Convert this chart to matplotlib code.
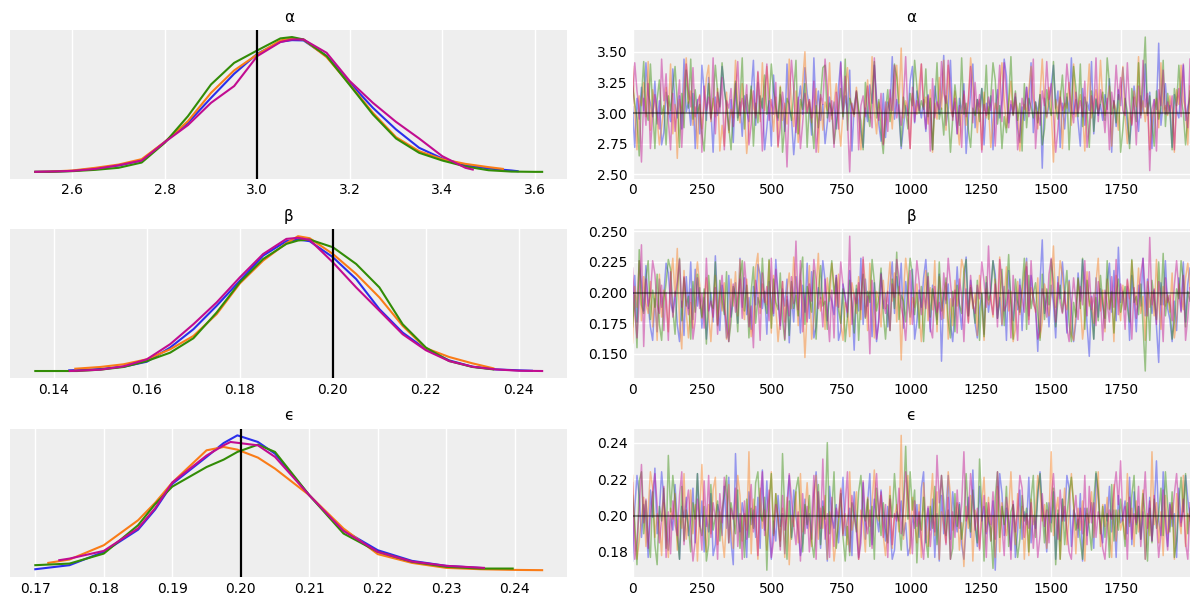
import numpy as np
import matplotlib
matplotlib.use('Agg')
import matplotlib.pyplot as plt

CHAIN_COLORS = ['#2a2eec', '#fa7c17', '#328c06', '#c10c90']
PARAM_NAMES = ['α', 'β', 'ϵ']
REF_VALUES = [3.0, 0.2, 0.2]

# ---- posterior densities (left column), one curve per chain ----
kde_alpha_x = [
    [2.52, 2.55, 2.60, 2.65, 2.70, 2.75, 2.80, 2.85, 2.90, 2.95, 3.00, 3.05, 3.075, 3.10,
     3.15, 3.20, 3.25, 3.30, 3.35, 3.40, 3.45, 3.50, 3.55, 3.563],
    [2.52, 2.55, 2.60, 2.65, 2.70, 2.75, 2.80, 2.85, 2.90, 2.95, 3.00, 3.05, 3.075, 3.10,
     3.15, 3.20, 3.25, 3.30, 3.35, 3.40, 3.45, 3.50, 3.531],
    [2.52, 2.55, 2.60, 2.65, 2.70, 2.75, 2.80, 2.85, 2.90, 2.95, 3.00, 3.05, 3.075, 3.10,
     3.15, 3.20, 3.25, 3.30, 3.35, 3.40, 3.45, 3.50, 3.55, 3.60, 3.616],
    [2.52, 2.55, 2.60, 2.65, 2.70, 2.75, 2.80, 2.85, 2.90, 2.95, 3.00, 3.05, 3.075, 3.10,
     3.15, 3.20, 3.25, 3.30, 3.35, 3.40, 3.45, 3.466],
]
kde_alpha_y = [
    [0, .002, .007, .025, .047, .084, .222, .363, .548, .726, .874, .963, .975, .973,
     .857, .659, .474, .314, .178, .099, .049, .025, .010, .005],
    [0, .002, .010, .030, .054, .094, .222, .375, .585, .751, .869, .973, .988, .980,
     .849, .647, .437, .257, .153, .094, .059, .035, .022],
    [0, 0, .005, .015, .030, .069, .215, .412, .647, .807, .899, .988, .998, .980,
     .857, .642, .425, .247, .141, .084, .040, .012, .002, 0, 0],
    [0, .002, .007, .022, .049, .084, .220, .346, .511, .635, .857, .961, .980, .980,
     .881, .672, .511, .370, .247, .116, .030, .017],
]

kde_beta_x = [
    [0.1433, 0.145, 0.15, 0.155, 0.16, 0.165, 0.17, 0.175, 0.18, 0.185, 0.19, 0.1925,
     0.195, 0.20, 0.205, 0.21, 0.215, 0.22, 0.225, 0.23, 0.235, 0.24, 0.2428],
    [0.1446, 0.15, 0.155, 0.16, 0.165, 0.17, 0.175, 0.18, 0.185, 0.19, 0.1925,
     0.195, 0.20, 0.205, 0.21, 0.215, 0.22, 0.225, 0.23, 0.2345],
    [0.136, 0.14, 0.145, 0.15, 0.155, 0.16, 0.165, 0.17, 0.175, 0.18, 0.185, 0.19, 0.1925,
     0.195, 0.20, 0.205, 0.21, 0.215, 0.22, 0.225, 0.23, 0.2345],
    [0.1434, 0.145, 0.15, 0.155, 0.16, 0.165, 0.17, 0.175, 0.18, 0.185, 0.19, 0.1925,
     0.195, 0.20, 0.205, 0.21, 0.215, 0.22, 0.225, 0.23, 0.235, 0.24, 0.245],
]
kde_beta_y = [
    [.005, .007, .015, .032, .069, .174, .310, .484, .670, .856, .963, .975,
     .963, .844, .682, .459, .285, .161, .079, .032, .012, .005, .002],
    [.017, .030, .050, .087, .161, .260, .422, .650, .819, .948, 1.0,
     .985, .868, .720, .546, .335, .169, .104, .057, .020],
    [0, 0, 0, .010, .030, .074, .136, .243, .434, .658, .831, .943, .968,
     .975, .918, .794, .620, .347, .174, .074, .030, .012],
    [0, .002, .010, .035, .087, .199, .347, .509, .695, .868, .980, .988,
     .973, .806, .620, .447, .273, .154, .074, .032, .012, .002, 0],
]

kde_eps_x = [
    [0.17, 0.175, 0.18, 0.185, 0.1875, 0.19, 0.195, 0.1975, 0.1995, 0.2025, 0.205,
     0.21, 0.215, 0.22, 0.225, 0.23, 0.2355],
    [0.1719, 0.175, 0.18, 0.185, 0.1875, 0.19, 0.195, 0.1975, 0.1995, 0.2025, 0.205,
     0.21, 0.215, 0.22, 0.225, 0.23, 0.235, 0.24, 0.244],
    [0.17, 0.175, 0.18, 0.185, 0.1875, 0.19, 0.195, 0.1975, 0.1995, 0.2025, 0.205,
     0.21, 0.215, 0.22, 0.225, 0.23, 0.235, 0.2397],
    [0.1735, 0.175, 0.18, 0.185, 0.1875, 0.19, 0.195, 0.1975, 0.1985, 0.2025, 0.205,
     0.21, 0.215, 0.22, 0.225, 0.23, 0.2355],
]
kde_eps_y = [
    [.007, .037, .136, .300, .450, .640, .840, .943, 1.0, .951, .864,
     .556, .296, .148, .069, .032, .015],
    [.054, .079, .185, .370, .500, .650, .889, .914, .894, .835, .753,
     .556, .309, .119, .054, .017, .007, .002, 0],
    [.037, .049, .123, .333, .490, .620, .765, .820, .877, .931, .877,
     .556, .272, .136, .062, .025, .012, .012],
    [.074, .086, .143, .310, .460, .650, .850, .926, .951, .926, .840,
     .556, .291, .136, .064, .032, .017],
]

# ---- sampled values (right column), every 8th draw, one list per chain ----
# alpha in hundredths
trace_alpha_x100 = [
    [305, 272, 312, 295, 321, 302, 341, 315, 308, 297, 326, 291, 310, 274, 284, 317, 304, 293, 336, 307,
     296, 314, 287, 344, 301, 309, 290, 316, 271, 311, 283, 339, 318, 294, 329, 303, 268, 313, 298, 308,
     338, 320, 305, 286, 311, 276, 324, 296, 309, 281, 314, 302, 293, 317, 343, 290, 325, 299, 312, 270,
     288, 310, 273, 331, 301, 294, 315, 306, 285, 340, 303, 296, 266, 289, 308, 322, 299, 337, 316, 305,
     282, 345, 300, 318, 294, 307, 275, 292, 313, 298, 309, 287, 321, 342, 295, 314, 301, 335, 269, 306,
     317, 299, 284, 272, 304, 293, 323, 308, 339, 312, 291, 277, 316, 280, 309, 302, 346, 295, 311, 300,
     271, 289, 306, 298, 326, 338, 292, 318, 307, 296, 311, 285, 315, 301, 270, 322, 308, 299, 313, 347,
     290, 304, 343, 297, 309, 283, 312, 300, 324, 267, 295, 316, 340, 288, 311, 305, 320, 274, 308, 299,
     314, 270, 303, 319, 296, 310, 344, 330, 292, 307, 298, 313, 288, 276, 305, 294, 321, 302, 341, 284,
     309, 300, 315, 255, 312, 297, 306, 323, 339, 304, 318, 272, 308, 287, 313, 301, 345, 299, 311, 293,
     273, 320, 290, 309, 302, 342, 283, 312, 298, 307, 294, 315, 303, 328, 268, 310, 289, 319, 306, 337,
     312, 291, 275, 296, 322, 304, 285, 314, 301, 340, 298, 317, 271, 311, 303, 357, 290, 308, 324, 299,
     306, 272, 315, 302, 296, 319, 339, 294, 305, 312],
    [338, 302, 270, 314, 306, 325, 297, 342, 286, 319, 308, 295, 274, 289, 304, 321, 299, 340, 283, 307,
     263, 311, 300, 323, 345, 308, 318, 290, 305, 271, 315, 287, 306, 328, 339, 293, 312, 297, 320, 269,
     290, 273, 317, 284, 303, 296, 343, 307, 292, 324, 301, 267, 288, 319, 305, 298, 333, 293, 341, 302,
     338, 317, 306, 285, 313, 272, 322, 294, 308, 291, 344, 303, 289, 318, 276, 297, 326, 350, 301, 311,
     292, 305, 320, 268, 312, 286, 309, 302, 341, 295, 307, 324, 293, 273, 300, 318, 337, 313, 304, 297,
     321, 299, 270, 290, 306, 327, 296, 346, 302, 283, 309, 301, 275, 294, 305, 312, 287, 320, 339, 308,
     353, 296, 310, 303, 271, 316, 307, 299, 322, 340, 305, 313, 291, 319, 268, 308, 295, 329, 303, 343,
     286, 339, 304, 297, 318, 293, 274, 301, 315, 290, 309, 345, 323, 306, 284, 311, 270, 317, 296, 305,
     272, 292, 308, 300, 320, 341, 311, 288, 306, 326, 298, 310, 303, 269, 291, 307, 301, 319, 338, 312,
     305, 287, 314, 344, 309, 296, 321, 302, 260, 311, 300, 318, 271, 308, 304, 325, 290, 340, 297, 306,
     315, 301, 269, 310, 340, 296, 307, 319, 303, 343, 311, 298, 306, 322, 273, 309, 302, 286, 316, 338,
     297, 275, 300, 291, 318, 305, 346, 299, 310, 293, 308, 270, 295, 304, 312, 288, 341, 301, 306, 298,
     314, 302, 268, 319, 307, 339, 311, 303, 274, 322],
    [322, 308, 296, 265, 313, 342, 301, 294, 340, 305, 271, 311, 327, 299, 306, 274, 314, 302, 320, 338,
     309, 272, 316, 288, 335, 304, 344, 295, 319, 300, 307, 283, 269, 302, 324, 296, 310, 339, 317, 305,
     341, 319, 306, 289, 270, 301, 326, 294, 309, 345, 287, 315, 300, 322, 273, 308, 292, 314, 304, 331,
     299, 310, 340, 318, 305, 296, 321, 268, 290, 312, 307, 294, 316, 343, 283, 311, 303, 324, 272, 309,
     293, 271, 306, 288, 313, 337, 339, 296, 308, 302, 275, 291, 304, 320, 297, 344, 286, 312, 305, 299,
     318, 303, 294, 270, 325, 300, 289, 314, 342, 296, 311, 284, 267, 301, 319, 293, 308, 340, 329, 304,
     273, 313, 302, 287, 316, 306, 343, 321, 300, 310, 303, 336, 297, 312, 270, 307, 341, 295, 304, 282,
     314, 301, 268, 296, 323, 305, 290, 345, 299, 308, 286, 272, 304, 298, 311, 293, 320, 302, 339, 295,
     312, 341, 327, 291, 306, 271, 297, 284, 310, 346, 299, 318, 294, 308, 269, 324, 288, 312, 305, 296,
     309, 292, 315, 274, 287, 319, 306, 298, 342, 304, 295, 310, 331, 300, 316, 270, 307, 338, 321, 297,
     340, 289, 313, 303, 272, 318, 285, 311, 300, 308, 317, 294, 345, 324, 299, 310, 292, 315, 268, 287,
     312, 301, 271, 320, 306, 293, 341, 298, 326, 362, 300, 314, 291, 273, 318, 295, 304, 343, 289, 316,
     302, 270, 320, 306, 339, 313, 300, 274, 296, 318],
    [308, 341, 318, 303, 260, 312, 290, 324, 271, 298, 315, 301, 287, 344, 310, 332, 294, 270, 316, 285,
     304, 327, 272, 311, 340, 319, 305, 337, 297, 309, 314, 268, 322, 302, 313, 295, 345, 283, 317, 300,
     329, 270, 310, 304, 320, 289, 315, 342, 298, 312, 301, 323, 274, 291, 318, 296, 334, 308, 269, 314,
     340, 294, 311, 299, 325, 273, 288, 317, 302, 256, 309, 343, 320, 284, 313, 271, 292, 316, 300, 311,
     296, 326, 268, 289, 315, 307, 344, 321, 293, 310, 272, 317, 287, 341, 301, 330, 295, 252, 308, 299,
     318, 270, 306, 314, 297, 322, 303, 288, 345, 305, 294, 316, 274, 309, 285, 319, 302, 339, 296, 307,
     290, 311, 346, 298, 271, 321, 293, 310, 302, 340, 305, 287, 314, 269, 328, 296, 309, 303, 342, 316,
     308, 343, 320, 294, 312, 283, 306, 272, 318, 297, 311, 338, 292, 325, 300, 315, 268, 307, 298, 313,
     302, 319, 273, 309, 339, 293, 341, 314, 288, 310, 300, 316, 270, 286, 312, 303, 321, 297, 309, 344,
     271, 301, 290, 318, 306, 342, 311, 324, 299, 268, 287, 313, 302, 308, 340, 320, 305, 292, 317, 300,
     310, 297, 326, 272, 289, 314, 301, 345, 293, 319, 306, 284, 312, 270, 317, 304, 339, 311, 329, 302,
     298, 341, 307, 290, 313, 274, 322, 296, 343, 305, 316, 253, 303, 311, 269, 319, 306, 335, 299, 309,
     301, 314, 270, 306, 320, 297, 340, 303, 288, 344],
]

# beta in thousandths
trace_beta_x1000 = [
    [181, 214, 176, 226, 207, 185, 222, 190, 172, 161, 195, 168, 211, 188, 199, 224, 216, 192, 184, 201,
     174, 160, 193, 165, 213, 187, 225, 178, 219, 189, 204, 171, 196, 162, 183, 200, 176, 230, 191, 169,
     206, 186, 163, 214, 180, 194, 208, 175, 228, 188, 212, 182, 196, 170, 205, 190, 223, 215, 187, 201,
     166, 209, 193, 181, 227, 197, 173, 203, 189, 211, 159, 198, 176, 213, 192, 167, 206, 184, 224, 179,
     217, 163, 172, 204, 195, 226, 210, 177, 199, 193, 182, 214, 161, 169, 207, 196, 180, 218, 191, 153,
     203, 185, 228, 174, 211, 189, 201, 164, 208, 160, 179, 216, 187, 199, 172, 205, 225, 183, 213, 198,
     224, 171, 209, 195, 180, 219, 162, 176, 202, 188, 212, 227, 197, 168, 206, 193, 178, 215, 144, 200,
     191, 207, 174, 160, 185, 221, 189, 170, 204, 229, 181, 210, 193, 175, 163, 187, 199, 166, 208, 184,
     202, 226, 215, 179, 196, 173, 205, 161, 218, 194, 177, 200, 186, 211, 169, 203, 228, 181, 214, 197,
     189, 152, 208, 243, 183, 199, 172, 206, 191, 163, 213, 195, 225, 201, 167, 210, 188, 160, 176, 216,
     193, 227, 207, 174, 148, 197, 162, 212, 180, 203, 190, 171, 209, 224, 184, 218, 177, 237, 192, 201,
     186, 205, 161, 214, 194, 168, 206, 189, 228, 181, 211, 196, 183, 202, 173, 143, 208, 190, 226, 187,
     178, 160, 193, 169, 212, 185, 225, 176, 207, 220],
    [159, 205, 188, 226, 177, 213, 191, 183, 209, 172, 199, 161, 215, 180, 202, 193, 168, 210, 228, 197,
     236, 176, 154, 218, 184, 163, 192, 171, 207, 225, 206, 179, 195, 212, 182, 160, 190, 214, 174, 201,
     185, 208, 162, 170, 211, 189, 217, 181, 227, 193, 178, 211, 186, 164, 175, 220, 232, 183, 207, 195,
     190, 226, 167, 214, 188, 160, 180, 209, 176, 201, 216, 187, 229, 205, 173, 210, 191, 147, 184, 222,
     162, 179, 203, 232, 185, 199, 170, 212, 193, 224, 206, 189, 215, 175, 161, 192, 186, 164, 208, 197,
     183, 213, 178, 227, 207, 169, 224, 190, 163, 201, 194, 172, 210, 187, 203, 225, 193, 216, 176, 205,
     145, 199, 228, 211, 174, 196, 188, 207, 182, 160, 191, 218, 177, 204, 186, 226, 168, 213, 193, 179,
     208, 162, 195, 173, 210, 189, 202, 227, 219, 192, 176, 206, 187, 199, 165, 214, 194, 161, 203, 190,
     198, 180, 211, 188, 229, 174, 196, 221, 185, 201, 160, 170, 209, 182, 199, 215, 225, 178, 204, 195,
     184, 212, 163, 176, 207, 197, 181, 202, 238, 188, 200, 226, 214, 192, 186, 209, 166, 161, 183, 211,
     191, 162, 179, 217, 189, 196, 175, 208, 228, 185, 202, 168, 211, 187, 199, 160, 214, 192, 177, 206,
     186, 210, 195, 226, 203, 190, 220, 183, 197, 161, 209, 188, 201, 181, 227, 194, 170, 205, 189, 198,
     184, 216, 163, 178, 207, 196, 186, 212, 224, 203],
    [172, 198, 155, 235, 190, 183, 211, 226, 178, 202, 188, 215, 174, 161, 192, 208, 227, 219, 186, 166,
     204, 228, 177, 212, 189, 197, 162, 209, 184, 215, 195, 180, 203, 158, 214, 191, 187, 225, 173, 210,
     194, 182, 217, 160, 176, 205, 198, 168, 213, 226, 185, 206, 163, 201, 221, 175, 196, 188, 228, 193,
     183, 227, 171, 211, 192, 186, 216, 178, 161, 194, 165, 209, 187, 198, 181, 214, 229, 174, 205, 196,
     184, 218, 162, 200, 222, 189, 193, 170, 207, 226, 199, 212, 186, 175, 203, 160, 180, 210, 191, 167,
     206, 161, 197, 215, 179, 201, 192, 227, 209, 185, 196, 220, 183, 162, 190, 169, 211, 187, 233, 178,
     198, 193, 176, 207, 228, 214, 182, 200, 171, 205, 160, 195, 216, 180, 203, 191, 174, 225, 185, 198,
     212, 177, 163, 201, 168, 206, 190, 183, 217, 227, 181, 204, 192, 175, 210, 161, 199, 164, 213, 194,
     200, 226, 208, 179, 195, 219, 173, 202, 231, 189, 162, 211, 193, 184, 205, 228, 170, 214, 187, 199,
     208, 182, 161, 215, 178, 203, 190, 227, 209, 172, 194, 206, 184, 199, 218, 175, 160, 192, 180, 212,
     187, 228, 170, 210, 193, 183, 162, 196, 177, 214, 191, 179, 226, 186, 201, 167, 199, 211, 184, 195,
     205, 188, 176, 227, 192, 197, 182, 207, 173, 136, 200, 161, 210, 194, 178, 225, 190, 232, 181, 198,
     189, 162, 176, 203, 195, 226, 209, 172, 201, 193],
    [220, 186, 163, 193, 239, 156, 211, 189, 198, 226, 215, 190, 183, 206, 169, 200, 161, 217, 180, 196,
     209, 227, 188, 213, 194, 182, 203, 162, 177, 212, 187, 199, 171, 228, 185, 193, 180, 204, 166, 197,
     214, 188, 175, 160, 190, 207, 184, 196, 211, 179, 225, 203, 172, 189, 155, 210, 198, 161, 216, 192,
     205, 177, 228, 183, 219, 194, 170, 209, 162, 197, 181, 213, 191, 242, 186, 226, 168, 199, 176, 207,
     193, 227, 210, 187, 196, 172, 211, 185, 160, 202, 163, 214, 188, 225, 206, 195, 184, 246, 174, 199,
     191, 208, 186, 229, 180, 197, 150, 210, 189, 162, 176, 215, 192, 183, 201, 169, 207, 196, 227, 212,
     188, 179, 161, 193, 218, 174, 198, 226, 209, 182, 200, 187, 213, 171, 163, 205, 184, 192, 178, 216,
     194, 228, 208, 189, 202, 167, 211, 197, 160, 203, 175, 214, 191, 183, 206, 195, 225, 209, 188, 238,
     193, 182, 207, 172, 227, 211, 185, 190, 202, 163, 214, 188, 161, 206, 195, 184, 221, 174, 226, 191,
     186, 162, 169, 203, 194, 180, 215, 228, 197, 176, 208, 192, 183, 201, 171, 160, 187, 212, 193, 178,
     205, 190, 226, 181, 217, 186, 199, 173, 209, 194, 161, 202, 191, 176, 213, 188, 227, 182, 207, 197,
     170, 211, 193, 162, 204, 179, 196, 215, 228, 199, 181, 245, 190, 203, 174, 209, 195, 160, 212, 192,
     198, 177, 206, 226, 201, 184, 214, 161, 180, 204],
]

# epsilon in thousandths
trace_eps_x1000 = [
    [175, 204, 222, 211, 188, 206, 197, 177, 214, 199, 226, 190, 202, 224, 209, 195, 181, 200, 192, 217,
     196, 176, 205, 199, 210, 189, 198, 215, 185, 223, 194, 208, 180, 199, 191, 212, 178, 184, 206, 201,
     189, 216, 193, 221, 186, 173, 234, 200, 191, 207, 198, 177, 213, 195, 203, 188, 210, 182, 225, 192,
     219, 190, 176, 197, 186, 211, 194, 201, 179, 207, 222, 188, 214, 199, 192, 178, 185, 209, 193, 201,
     187, 212, 224, 203, 182, 208, 195, 175, 216, 199, 193, 206, 185, 200, 221, 189, 198, 204, 178, 213,
     195, 177, 190, 218, 187, 207, 223, 184, 209, 200, 191, 214, 199, 186, 205, 194, 176, 181, 202, 197,
     208, 189, 196, 178, 183, 200, 193, 206, 188, 215, 224, 185, 204, 192, 209, 177, 201, 175, 211, 190,
     203, 222, 187, 213, 199, 191, 207, 184, 176, 194, 210, 188, 225, 195, 183, 216, 197, 205, 190, 199,
     186, 208, 170, 201, 223, 212, 189, 204, 196, 181, 206, 177, 192, 214, 187, 202, 195, 221, 185, 200,
     193, 211, 224, 204, 198, 180, 207, 196, 213, 176, 201, 186, 209, 197, 222, 215, 183, 203, 199, 188,
     212, 175, 204, 189, 200, 207, 182, 223, 210, 193, 185, 206, 197, 216, 191, 203, 177, 211, 196, 200,
     208, 190, 221, 184, 213, 195, 205, 187, 202, 176, 192, 210, 186, 204, 230, 197, 189, 224, 200, 183,
     207, 194, 201, 177, 215, 196, 203, 222, 209, 199],
    [222, 191, 176, 186, 199, 210, 183, 203, 224, 215, 188, 201, 196, 178, 207, 192, 177, 204, 198, 212,
     181, 200, 193, 223, 187, 197, 214, 190, 206, 175, 202, 228, 195, 180, 206, 190, 214, 221, 184, 202,
     189, 177, 199, 217, 194, 182, 205, 222, 211, 186, 201, 192, 235, 179, 209, 198, 176, 215, 193, 203,
     181, 207, 224, 190, 212, 199, 186, 204, 177, 210, 173, 200, 194, 213, 185, 223, 191, 202, 218, 196,
     183, 209, 222, 187, 204, 193, 211, 176, 202, 195, 175, 186, 197, 215, 190, 201, 184, 224, 192, 199,
     213, 176, 203, 196, 180, 210, 194, 207, 225, 200, 197, 211, 189, 178, 193, 216, 182, 199, 206, 191,
     244, 187, 200, 222, 179, 210, 197, 185, 206, 177, 218, 196, 183, 204, 223, 189, 213, 176, 202, 195,
     185, 224, 211, 192, 198, 207, 181, 196, 172, 205, 193, 211, 175, 203, 198, 182, 207, 221, 191, 210,
     186, 200, 177, 216, 180, 207, 196, 189, 202, 224, 198, 184, 212, 193, 205, 176, 200, 178, 209, 195,
     203, 222, 214, 197, 206, 182, 199, 235, 189, 202, 210, 176, 197, 215, 184, 201, 223, 206, 179, 204,
     192, 208, 175, 201, 196, 213, 188, 204, 224, 183, 206, 194, 210, 189, 177, 217, 186, 203, 192, 198,
     187, 223, 196, 204, 183, 208, 191, 199, 214, 176, 201, 189, 235, 195, 207, 185, 202, 178, 211, 190,
     194, 207, 176, 212, 199, 190, 222, 183, 201, 197],
    [211, 196, 173, 219, 224, 190, 208, 187, 177, 213, 184, 173, 205, 197, 215, 182, 233, 202, 222, 209,
     188, 176, 216, 186, 203, 193, 180, 207, 198, 223, 195, 189, 205, 175, 184, 217, 192, 199, 208, 186,
     203, 211, 222, 185, 207, 199, 190, 214, 182, 200, 177, 209, 188, 204, 193, 218, 224, 201, 197, 210,
     170, 206, 223, 189, 212, 198, 183, 234, 201, 176, 208, 187, 199, 214, 221, 203, 180, 206, 195, 211,
     186, 177, 193, 217, 184, 205, 198, 240, 190, 202, 224, 182, 196, 212, 188, 175, 194, 178, 207, 199,
     191, 213, 222, 201, 197, 209, 183, 205, 176, 215, 202, 189, 207, 193, 185, 211, 199, 223, 204, 196,
     181, 206, 238, 198, 224, 203, 214, 174, 200, 192, 210, 187, 177, 205, 193, 216, 184, 201, 222, 208,
     189, 203, 176, 182, 212, 194, 206, 187, 198, 223, 200, 191, 214, 196, 185, 231, 204, 175, 207, 197,
     193, 171, 210, 224, 188, 205, 195, 216, 183, 202, 206, 192, 177, 187, 211, 197, 204, 180, 209, 222,
     188, 213, 223, 202, 185, 207, 199, 191, 215, 173, 203, 176, 209, 184, 200, 212, 221, 206, 192, 198,
     186, 176, 197, 204, 193, 181, 208, 224, 214, 190, 205, 188, 201, 177, 217, 186, 203, 192, 209, 197,
     183, 207, 194, 211, 222, 190, 205, 187, 212, 200, 175, 204, 185, 209, 193, 201, 215, 189, 224, 206,
     191, 213, 177, 186, 207, 221, 202, 223, 190, 204],
    [218, 176, 187, 203, 228, 196, 209, 182, 200, 213, 223, 206, 185, 198, 216, 177, 202, 179, 208, 195,
     189, 211, 224, 184, 205, 214, 192, 175, 186, 209, 197, 181, 219, 194, 222, 188, 207, 199, 176, 212,
     196, 221, 210, 185, 204, 198, 215, 183, 201, 176, 208, 187, 200, 217, 191, 205, 178, 210, 224, 189,
     203, 214, 177, 186, 206, 199, 181, 211, 192, 200, 223, 209, 195, 184, 202, 175, 212, 190, 205, 180,
     198, 222, 176, 213, 193, 231, 187, 201, 177, 210, 183, 204, 199, 214, 189, 206, 224, 180, 211, 202,
     192, 176, 185, 219, 197, 190, 203, 182, 207, 223, 200, 213, 188, 206, 177, 209, 184, 201, 197, 215,
     190, 204, 224, 211, 198, 179, 208, 194, 202, 187, 176, 196, 205, 183, 200, 191, 233, 207, 222, 199,
     184, 210, 176, 202, 188, 214, 193, 206, 235, 197, 201, 223, 209, 192, 204, 181, 198, 211, 177, 207,
     195, 213, 187, 224, 206, 194, 178, 210, 199, 176, 208, 191, 203, 222, 215, 188, 201, 193, 207, 182,
     199, 177, 189, 212, 194, 203, 185, 209, 223, 201, 187, 214, 197, 205, 192, 180, 176, 199, 211, 193,
     204, 190, 222, 184, 216, 196, 207, 188, 202, 195, 182, 176, 194, 203, 198, 213, 224, 206, 230, 197,
     205, 176, 210, 187, 201, 196, 216, 183, 204, 224, 193, 208, 186, 211, 197, 177, 190, 214, 195, 181,
     206, 198, 212, 223, 203, 194, 209, 185, 176, 207],
]

TRACE_SCALES = [100, 1000, 1000]
N_DRAWS = 2000

# tick positions seen on the axes
kde_xticks = [
    [2.6, 2.8, 3.0, 3.2, 3.4, 3.6],
    [0.14, 0.16, 0.18, 0.20, 0.22, 0.24],
    [0.17, 0.18, 0.19, 0.20, 0.21, 0.22, 0.23, 0.24],
]
trace_yticks = [
    [2.50, 2.75, 3.00, 3.25, 3.50],
    [0.150, 0.175, 0.200, 0.225, 0.250],
    [0.18, 0.20, 0.22, 0.24],
]
trace_xticks = [0, 250, 500, 750, 1000, 1250, 1500, 1750]

plt.rcParams.update({
    'font.family': ['DejaVu Sans'],
    'font.size': 10,
    'axes.facecolor': '#eeeeee',
    'axes.edgecolor': '#eeeeee',
    'grid.color': 'white',
    'grid.linewidth': 1.0,
    'xtick.major.size': 0,
    'ytick.major.size': 0,
})

kde_x = [kde_alpha_x, kde_beta_x, kde_eps_x]
kde_y = [kde_alpha_y, kde_beta_y, kde_eps_y]
traces = [trace_alpha_x100, trace_beta_x1000, trace_eps_x1000]

fig, axes = plt.subplots(3, 2, figsize=(12, 6.06), dpi=100)
plt.subplots_adjust(left=0.0083, right=0.9917, bottom=0.048, top=0.95,
                    wspace=0.1166, hspace=0.343)

for row in range(3):
    ax_kde, ax_tr = axes[row]
    for ax in (ax_kde, ax_tr):
        ax.set_axisbelow(True)
        for sp in ax.spines.values():
            sp.set_visible(False)
        ax.set_title(PARAM_NAMES[row], fontsize=11, pad=6)

    # density of each chain
    for c, color in enumerate(CHAIN_COLORS):
        ax_kde.plot(kde_x[row][c], kde_y[row][c], color=color, lw=1.5)
    ax_kde.axvline(REF_VALUES[row], color='black', lw=1.6)
    ax_kde.set_xticks(kde_xticks[row])
    ax_kde.set_yticks([])
    ax_kde.grid(True, axis='x')

    # trace of each chain
    for c, color in enumerate(CHAIN_COLORS):
        vals = np.array(traces[row][c]) / TRACE_SCALES[row]
        draws = np.linspace(0, N_DRAWS - 1, len(vals))
        ax_tr.plot(draws, vals, color=color, lw=1.1, alpha=0.45)
    ax_tr.axhline(REF_VALUES[row], color='black', lw=1.5, alpha=0.45)
    ax_tr.margins(x=0)
    ax_tr.set_xticks(trace_xticks)
    ax_tr.set_yticks(trace_yticks[row])
    ax_tr.grid(True)

plt.savefig('out.png', dpi=100)
plt.close()
